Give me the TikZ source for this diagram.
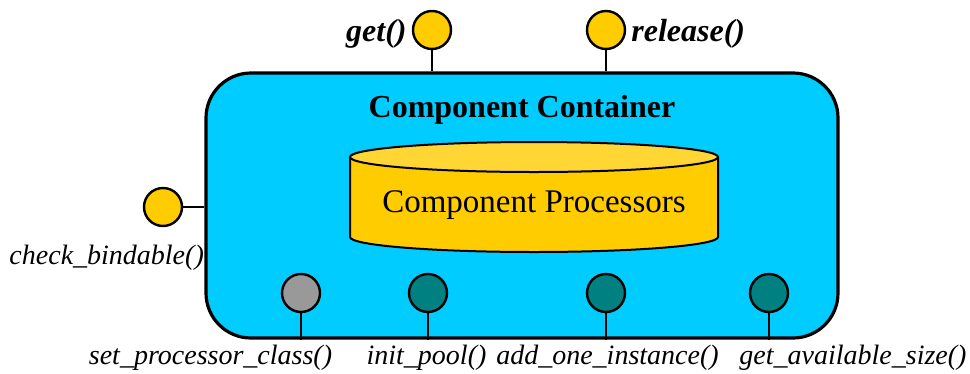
\documentclass[tikz,border=0pt]{standalone}
\usepackage{fontspec}
\setmainfont{Liberation Serif}
\usetikzlibrary{positioning}
\definecolor{boxcyan}{HTML}{00CCFF}
\definecolor{portgold}{HTML}{FFCC00}
\definecolor{lidgold}{HTML}{FFD633}
\definecolor{portteal}{HTML}{008080}
\definecolor{portgray}{HTML}{999999}

\begin{document}
\begin{tikzpicture}[x=1pt,y=-1pt,line width=2.4pt,
  port/.style={circle,draw,line width=2.4pt,minimum size=38pt,inner sep=0pt},
  toplabel/.style={font=\fontsize{32}{34}\selectfont\bfseries\itshape,inner sep=0pt},
  plabel/.style={font=\fontsize{28}{30}\selectfont\itshape,inner sep=0pt}]
\useasboundingbox (0,0) rectangle (970,373);
% the container box
\node[draw,fill=boxcyan,line width=3.2pt,rounded corners=45pt,
  minimum width=632pt,minimum height=265pt] (box) at (522,205.5) {};
\node[font=\fontsize{32}{34}\selectfont\bfseries] (title) at (522,110) {Component Container};
% processor store
\fill[portgold] (350,157) -- (350,237) arc[start angle=180,end angle=360,x radius=184pt,y radius=15pt] -- (718,157) -- cycle;
\draw[line width=2pt] (350,157) -- (350,237) arc[start angle=180,end angle=360,x radius=184pt,y radius=15pt] -- (718,157);
\draw[fill=lidgold,line width=2pt] (534,157) ellipse[x radius=184pt,y radius=15pt];
\node[font=\fontsize{33}{35}\selectfont] (procs) at (534,205) {Component Processors};
% interface ports
\node[port,fill=portgold] (get) at (432,30) {};
\node[port,fill=portgold] (release) at (606,30) {};
\node[port,fill=portgold] (bind) at (163,207) {};
\node[port,fill=portgray] (setcls) at (301,293) {};
\node[port,fill=portteal] (init) at (428,293) {};
\node[port,fill=portteal] (addone) at (606,293) {};
\node[port,fill=portteal] (avail) at (769,293) {};
\draw (get) -- (get |- box.north);
\draw (release) -- (release |- box.north);
\draw (bind) -- (bind -| box.west);
\foreach \p in {setcls,init,addone,avail}
  \draw (\p) -- (\p |- box.south);
% port labels
\node[toplabel,left=4pt of get,yshift=-4pt] (getlbl) {get()};
\node[toplabel,right=4pt of release,yshift=-4pt] (rellbl) {release()};
\node[plabel,anchor=base east] (bindlbl) at (205,264) {check\_bindable()};
\node[plabel,anchor=base] (setlbl) at (210.5,364) {set\_processor\_class()};
\node[plabel,anchor=base] (initlbl) at (426.5,364) {init\_pool()};
\node[plabel,anchor=base] (addlbl) at (607.5,364) {add\_one\_instance()};
\node[plabel,anchor=base] (availlbl) at (853,364) {get\_available\_size()};
\end{tikzpicture}
\end{document}
